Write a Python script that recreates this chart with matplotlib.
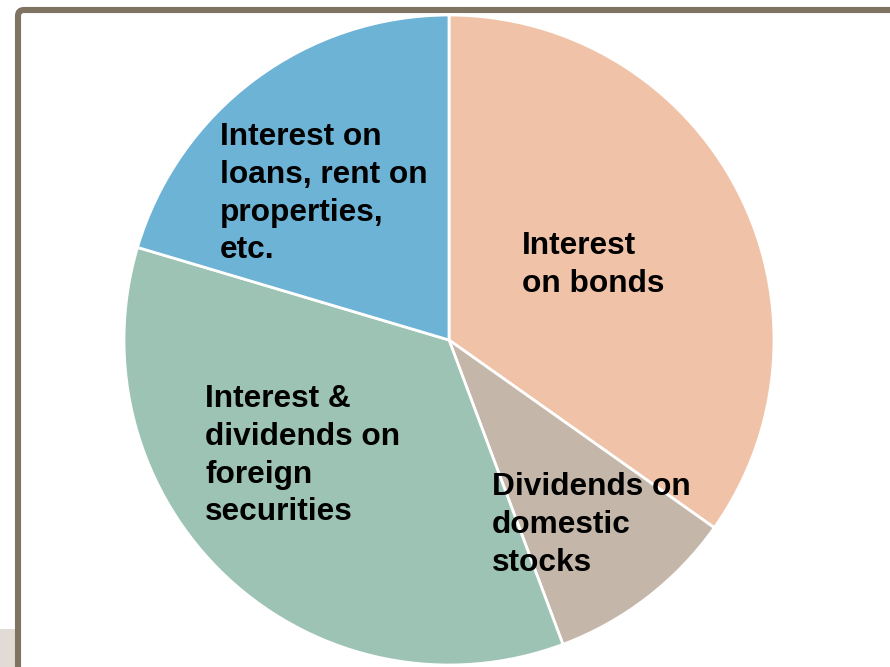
import matplotlib.pyplot as plt
from matplotlib.patches import FancyBboxPatch, Rectangle

W, H = 890, 667

# income shares, clockwise from 12 o'clock
labels = ["Interest\non bonds",
          "Dividends on\ndomestic\nstocks",
          "Interest &\ndividends on\nforeign\nsecurities",
          "Interest on\nloans, rent on\nproperties,\netc."]
shares = [34.8, 9.5, 35.3, 20.4]
colors = ["#F0C3A9", "#C4B7A9", "#9DC3B5", "#6DB3D5"]
# top-left corner of each label block (pixels from top-left)
label_xy = [(522, 231), (492, 472), (205, 384), (220, 122)]

fig = plt.figure(figsize=(W / 100, H / 100), dpi=100)
ax = fig.add_axes([0, 0, 1, 1])
ax.set_xlim(0, W)
ax.set_ylim(0, H)
ax.set_aspect("equal")
ax.axis("off")

# slide frame and grey corner
ax.add_patch(Rectangle((0, 0), 15, H - 629, facecolor="#E0DCD5", edgecolor="none"))
ax.add_patch(FancyBboxPatch((18, -60), 1000, H - 10 + 60,
                            boxstyle="round,pad=0,rounding_size=6",
                            facecolor="none", edgecolor="#7F7462", linewidth=4.4))

ax.pie(shares, colors=colors, startangle=90, counterclock=False,
       center=(449, H - 340), radius=325, frame=True,
       wedgeprops=dict(edgecolor="white", linewidth=2))
ax.set_xlim(0, W)
ax.set_ylim(0, H)
ax.axis("off")

for text, (x, y) in zip(labels, label_xy):
    ax.text(x, H - y, text, ha="left", va="top", fontsize=22.8,
            fontweight="bold", family="Liberation Sans", color="black",
            linespacing=1.34)

fig.savefig("out.png", dpi=100)
